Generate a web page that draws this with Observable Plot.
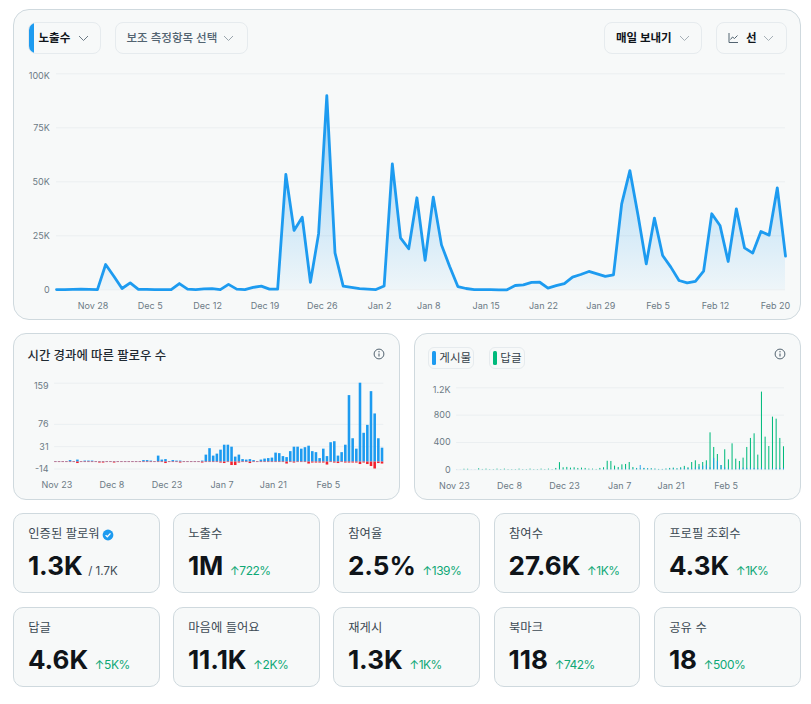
<!DOCTYPE html>
<html lang="ko">
<head>
<meta charset="utf-8">
<script src="https://cdn.jsdelivr.net/npm/d3@7"></script>
<script src="https://cdn.jsdelivr.net/npm/@observablehq/plot@0.6"></script>
<style>
  html, body { margin: 0; padding: 0; background: #fff; }
  body { width: 811px; height: 704px; position: relative; overflow: hidden;
         font-family: Inter, "Noto Sans CJK KR", sans-serif; color: #0f1419; }
  .card { position: absolute; box-sizing: border-box; background: #f7f9f9; border: 1px solid #cfd9de; }
  .plot { position: absolute; }
  .pill { position: absolute; box-sizing: border-box; height: 32px; top: 22px; border: 1px solid #e6ebee;
          border-radius: 8px; background: #f7f9f9; font-size: 11.5px; line-height: 30px; white-space: nowrap; overflow: hidden; }
  .pill b { position: absolute; top: 0; font-weight: 700; }
  .pill span.t { position: absolute; top: 0; font-weight: 500; color: #536471; }
  .pill svg { position: absolute; top: 12px; }
  .stripe { position: absolute; left: -1px; top: -1px; bottom: -1px; width: 6px; background: #1d9bf0; }
  .abs { position: absolute; white-space: nowrap; }
  .lbl { position: absolute; left: 14px; top: 11px; font-size: 12.3px; line-height: 18px; color: #3c4a54; white-space: nowrap; }
  .val { position: absolute; left: 13.6px; top: 34px; white-space: nowrap; line-height: 36px; }
  .val b { font-size: 26px; font-weight: 700; color: #0f1419; }
  .val .d { font-size: 12px; color: #0fa876; margin-left: 6.5px; letter-spacing: -0.5px; }
  .val .o { font-size: 11.5px; color: #3c4a54; margin-left: 5.5px; }
  .legend { position: absolute; box-sizing: border-box; top: 347px; height: 22px; border: 1px solid #e6ebee; border-radius: 6px;
            font-size: 11.5px; line-height: 20px; color: #333f48; }
  .legend i { position: absolute; left: 3px; top: 3px; bottom: 3px; width: 3.4px; border-radius: 1.5px; }
  .legend span { position: absolute; left: 10px; top: 0; white-space: nowrap; }
</style>
</head>
<body>
<script>
// ---------- data ----------
const days = d3.utcDay.range(new Date(Date.UTC(2024, 10, 23)), new Date(Date.UTC(2025, 1, 21)))
  .map(d3.utcFormat("%b %-d"));

const impressions = [
  100,100,200,300,200,100,11700,6300,600,3200,
  200,200,100,100,100,2900,300,100,400,500,
  100,2500,300,100,1100,1700,300,300,53400,27500,
  33600,3500,26000,89900,17100,1700,1100,500,300,100,
  1800,58300,24000,19000,42600,13600,42900,20800,10800,1500,
  600,100,50,50,0,0,2000,2300,3400,3500,
  800,1900,2900,5900,7100,8500,7400,6200,6900,39800,
  55200,34400,12000,33200,15900,10500,4300,3200,3900,8600,
  35200,29800,13100,37500,19400,17000,27000,25300,47200,15600
];
const followersUp = [
  1,1,1,1,3,1,4,1,2,2,
  2,1,1,1,1,1,1,1,1,1,
  1,1,1,1,3,3,2,1,12,4,
  5,1,3,2,2,1,1,1,1,1,
  2,14,27,12,16,24,34,34,30,10,
  14,5,4,5,3,1,4,6,7,8,
  18,17,11,9,21,30,30,26,29,32,
  21,19,7,26,11,39,41,12,19,34,
  134,47,26,159,58,74,142,97,47,28
];
const followersDown = [
  1,1,1,1,1,1,3,1,1,1,
  1,1,2,2,1,1,2,1,1,1,
  1,1,1,1,1,1,1,1,1,1,
  3,1,1,1,2,1,1,1,1,1,
  2,1,1,1,1,2,3,1,7,7,
  2,1,1,3,1,1,1,1,1,1,
  1,1,1,4,1,2,1,1,1,4,
  2,2,2,2,6,1,2,3,1,2,
  2,2,2,5,2,5,9,14,3,4
];
const replies = [
  0,0,8,8,0,0,15,5,10,4,
  4,10,4,10,4,4,4,10,4,4,
  10,4,4,10,4,10,4,20,105,30,
  35,25,30,20,25,20,10,10,5,20,
  30,125,122,54,34,73,78,107,34,20,
  12,20,15,15,10,5,5,10,20,25,
  15,30,50,30,107,132,78,107,132,541,
  327,224,63,293,146,380,156,122,171,327,
  459,527,215,1137,478,341,771,741,459,337
];
const posts = [
  2,2,3,3,2,2,4,2,3,2,
  2,3,2,3,2,2,2,3,2,2,
  3,2,2,3,2,3,2,5,8,5,
  6,5,5,4,5,4,3,3,2,4,
  6,8,8,5,8,10,12,10,8,15,
  63,20,15,10,8,5,5,8,10,12,
  10,15,15,18,15,25,40,50,65,30,
  166,122,63,30,15,8,10,20,25,20,
  25,20,15,25,10,8,15,20,20,20
];

const mainTicks = ["Nov 28","Dec 5","Dec 12","Dec 19","Dec 26","Jan 2","Jan 8","Jan 15","Jan 22","Jan 29","Feb 5","Feb 12"];
const mainLastTick = ["Feb 20"];
const mainY = [0, 25000, 50000, 75000];
const mainTop = [100000];
const followTicks = ["Nov 23","Dec 8","Dec 23","Jan 7","Jan 21","Feb 5"];
const followY = [-14, 31, 76];
const followTop = [159];
const postY = [0, 400, 800];
const postTop = [1200];

const statLabels = ["인증된 팔로워","노출수","참여율","참여수","프로필 조회수","답글","마음에 들어요","재게시","북마크","공유 수"];
const statValues = ["1.3K","1M","2.5%","27.6K","4.3K","4.6K","11.1K","1.3K","118","18"];
const statDeltas = [null,"722%","139%","1K%","1K%","5K%","2K%","1K%","742%","500%"];
const statColumns = [13.3,173.3,333.3,494,654.3];
const statRows = [513.3,607.3];

const BLUE = "#1d9bf0", RED = "#f4212e", GREEN = "#00ba7c";
const GRID = "#ebeff1", TICK = "#6c7a85";

// ---------- helpers ----------
function el(tag, cls, css, html) {
  const e = document.createElement(tag);
  if (cls) e.className = cls;
  if (css) e.style.cssText = css;
  if (html != null) e.innerHTML = html;
  document.body.appendChild(e);
  return e;
}
const chevron = (x, c) => `<svg style="left:${x}px" width="11" height="7" viewBox="0 0 11 7"><path d="M1 1l4.5 4.5L10 1" fill="none" stroke="${c}" stroke-width="1"/></svg>`;
const info = (x, y) => `<svg style="position:absolute;left:${x-6}px;top:${y-6}px" width="12" height="12" viewBox="0 0 12 12"><circle cx="6" cy="6" r="4.9" fill="none" stroke="#536471" stroke-width="1"/><path d="M6 5.4v3" stroke="#536471" stroke-width="1.1"/><circle cx="6" cy="3.7" r=".7" fill="#536471"/></svg>`;
function place(plot, x, y) { plot.classList.add("plot"); plot.style.left = x + "px"; plot.style.top = y + "px"; document.body.appendChild(plot); }
const style = {background: "transparent", fontFamily: "Inter, 'Noto Sans CJK KR', sans-serif", fontSize: "9px", color: TICK};
const plain = {tickSize: 0, label: null, fontVariant: "normal"};

// ---------- cards ----------
el("div", "card", "left:13px;top:8.5px;width:787.5px;height:311px;border-radius:16px");
el("div", "card", "left:13px;top:333px;width:387px;height:166.5px;border-radius:13px");
el("div", "card", "left:414px;top:333px;width:387px;height:166.5px;border-radius:13px");

// toolbar
el("div", "pill", "left:27.5px;width:73.5px", `<div class="stripe"></div><b style="left:10px">노출수</b>${chevron(49, "#6c7a85")}`);
el("div", "pill", "left:115px;width:133px", `<span class="t" style="left:10.5px">보조 측정항목 선택</span>${chevron(107, "#9aa5ad")}`);
el("div", "pill", "left:604px;width:98px", `<b style="left:11px">매일 보내기</b>${chevron(74, "#a6b0b7")}`);
el("div", "pill", "left:716px;width:71px",
  `<svg style="left:11px;top:9px" width="11" height="12" viewBox="0 0 11 12"><path d="M1 1v9.5h9M2.5 7.5l2-2.5 2 1.5 3-3" fill="none" stroke="#536471" stroke-width="1"/></svg><b style="left:29px">선</b>${chevron(46, "#a6b0b7")}`);

// ---------- main line chart ----------
place(Plot.plot({
  width: 787, height: 259,
  marginTop: 13.3, marginBottom: 29.7, marginLeft: 43, marginRight: 15,
  style,
  x: {type: "point", domain: days, padding: 0, round: false},
  y: {domain: [0, 100000]},
  marks: [
    () => {
      const defs = d3.create("svg:defs");
      const g = defs.append("linearGradient").attr("id", "impFill").attr("x1", 0).attr("x2", 0).attr("y1", 0).attr("y2", 1);
      g.append("stop").attr("offset", 0).attr("stop-color", BLUE).attr("stop-opacity", 0.42);
      g.append("stop").attr("offset", 1).attr("stop-color", BLUE).attr("stop-opacity", 0.04);
      return defs.node();
    },
    Plot.ruleY([...mainY, ...mainTop], {stroke: GRID, strokeWidth: 1}),
    Plot.areaY(impressions, {x: (d, i) => days[i], y1: 0, y2: d => d, fill: "url(#impFill)"}),
    Plot.lineY(impressions, {x: (d, i) => days[i], y: d => d, stroke: BLUE, strokeWidth: 2.8}),
    Plot.axisY({...plain, ticks: mainY, tickPadding: 6.7, dy: 0.7, tickFormat: d => d ? d / 1000 + "K" : "0"}),
    Plot.axisY({...plain, ticks: mainTop, tickPadding: 6.7, dy: 2.5, tickFormat: d => d / 1000 + "K"}),
    Plot.axisX({...plain, ticks: mainTicks, tickPadding: 13, dx: -4.5}),
    Plot.axisX({...plain, ticks: mainLastTick, tickPadding: 13, dx: -10})
  ]
}), 13, 60);

// ---------- followers chart ----------
el("div", "abs", "left:27.5px;top:347px;font-size:12.4px;line-height:18px;font-weight:500;color:#1f2a33", "시간 경과에 따른 팔로우 수");
el("div", "", "", info(379.3, 354.3));
place(Plot.plot({
  width: 387, height: 129,
  marginTop: 12.7, marginBottom: 30.5, marginLeft: 41.1, marginRight: 16.7,
  style,
  x: {type: "band", domain: days, padding: 0.3, paddingOuter: 0, round: false},
  y: {domain: [-14, 159]},
  marks: [
    Plot.ruleY([...followY, ...followTop], {stroke: GRID, strokeWidth: 1}),
    Plot.barY(followersUp, {x: (d, i) => days[i], y1: 0, y2: d => d, fill: BLUE}),
    Plot.barY(followersDown, {x: (d, i) => days[i], y1: 0, y2: d => -d, fill: RED}),
    Plot.axisY({...plain, ticks: followY, tickPadding: 6, tickFormat: String}),
    Plot.axisY({...plain, ticks: followTop, tickPadding: 6, dy: 3, tickFormat: String}),
    Plot.axisX({...plain, ticks: followTicks, tickPadding: 12.5, dx: 1})
  ]
}), 13, 370);

// ---------- posts / replies chart ----------
el("div", "legend", "left:428.3px;width:46px", `<i style="background:${BLUE}"></i><span>게시물</span>`);
el("div", "legend", "left:489.3px;width:36px", `<i style="background:${GREEN}"></i><span>답글</span>`);
el("div", "", "", info(780.3, 354.3));
place(Plot.plot({
  width: 387, height: 124,
  marginTop: 12.3, marginBottom: 29.7, marginLeft: 42.1, marginRight: 17,
  style,
  x: {type: "band", domain: days, padding: 0.72, paddingOuter: 0, round: false},
  y: {domain: [0, 1200]},
  marks: [
    Plot.ruleY([...postY, ...postTop], {stroke: GRID, strokeWidth: 1}),
    Plot.barY(replies, {x: (d, i) => days[i], y1: 0, y2: d => d, fill: GREEN}),
    Plot.barY(posts, {x: (d, i) => days[i], y1: 0, y2: d => d, fill: BLUE, fillOpacity: 0.85}),
    Plot.axisY({...plain, ticks: postY, tickPadding: 6, tickFormat: String}),
    Plot.axisY({...plain, ticks: postTop, tickPadding: 6, dy: 2.7, tickFormat: d => d / 1000 + "K"}),
    Plot.axisX({...plain, ticks: followTicks, tickPadding: 13, dx: -2.7})
  ]
}), 414, 375);

// ---------- stat cards ----------
const badge = `<svg style="position:absolute;left:88px;top:14.5px" width="12" height="12" viewBox="0 0 12 12"><circle cx="6" cy="6" r="5.4" fill="${BLUE}"/><path d="M3.6 6.1l1.7 1.7 3.2-3.4" fill="none" stroke="#fff" stroke-width="1.3"/></svg>`;
statLabels.forEach((label, i) => {
  const col = i % 5, row = Math.floor(i / 5);
  const extra = i === 0
    ? `<span class="o">/ 1.7K</span>`
    : `<span class="d">↑${statDeltas[i]}</span>`;
  el("div", "card", `left:${statColumns[col]}px;top:${statRows[row]}px;width:146.4px;height:80.2px;border-radius:10px`,
    `<div class="lbl">${label}</div>${i === 0 ? badge : ""}<div class="val"><b>${statValues[i]}</b>${extra}</div>`);
});
</script>
</body>
</html>
